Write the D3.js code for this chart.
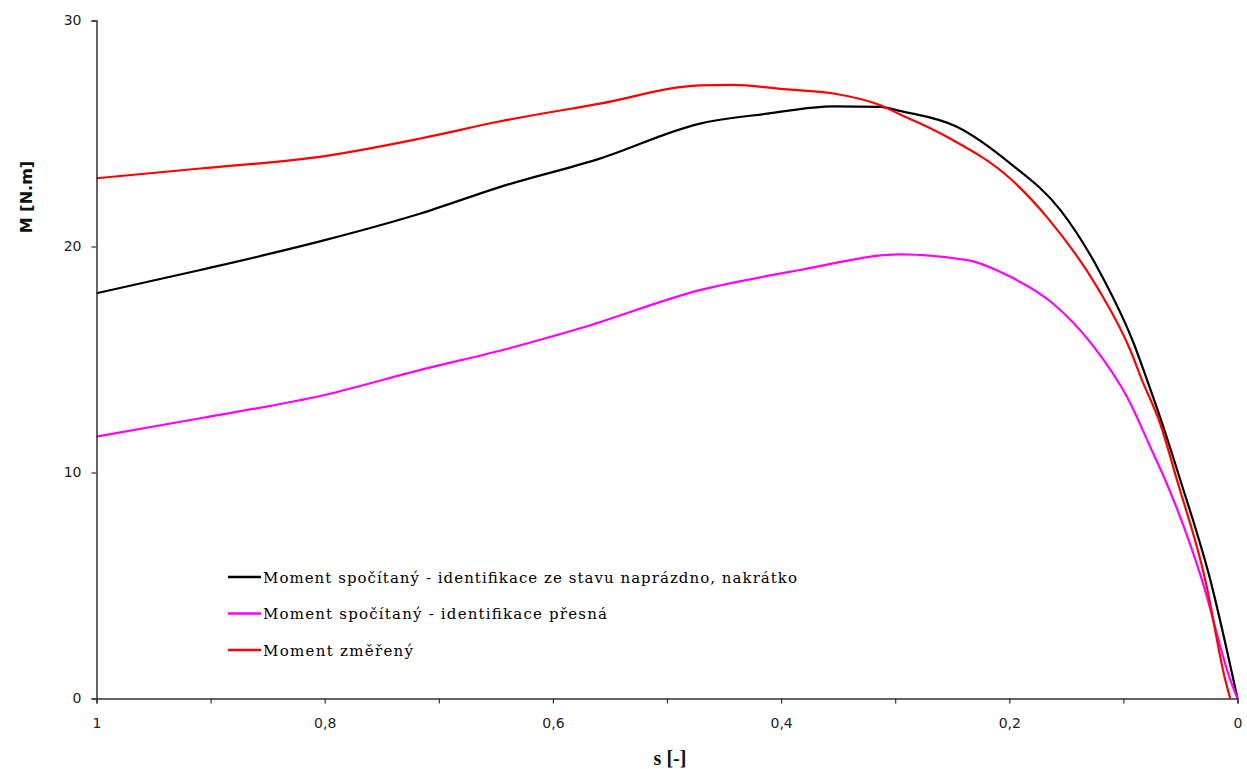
<!DOCTYPE html>
<html><head><meta charset="utf-8">
<script src="https://cdn.jsdelivr.net/npm/d3@7"></script>
<style>body{margin:0;background:#fff}svg{display:block}</style>
</head><body>
<svg id="c" width="1247" height="769"></svg>
<script>
// s [-] and M [N.m]
const sBlack = [1.0,0.909,0.800,0.716,0.646,0.559,0.471,0.412,0.354,0.313,0.296,0.246,0.199,0.155,0.120,0.091,0.0793,0.068,0.0502,0.0239,0.0];
const mBlack = [17.93,18.96,20.28,21.46,22.64,23.89,25.44,25.88,26.2,26.18,26.0,25.3,23.67,21.6,18.81,15.72,14.1,12.47,9.68,5.26,0.0];
const sMagenta = [1.0,0.909,0.800,0.716,0.638,0.576,0.471,0.383,0.296,0.237,0.199,0.162,0.126,0.097,0.074,0.0634,0.0312,0.0064,0.0];
const mMagenta = [11.59,12.4,13.43,14.54,15.5,16.38,18.07,18.96,19.65,19.4,18.66,17.49,15.57,13.36,10.86,9.68,5.26,0.84,0.0];
const sRed = [1.0,0.909,0.800,0.716,0.646,0.559,0.471,0.442,0.398,0.354,0.313,0.296,0.278,0.252,0.199,0.167,0.123,0.094,0.0838,0.068,0.0531,0.0283,0.0108,0.0064];
const mRed = [23.02,23.45,24.0,24.78,25.54,26.32,27.13,27.15,26.96,26.77,26.25,25.85,25.44,24.78,23.0,21.3,18.2,15.42,14.1,12.2,9.68,5.26,0.84,0.0];
const seriesNames = ["Moment spočítaný - identifikace ze stavu naprázdno, nakrátko","Moment spočítaný - identifikace přesná","Moment změřený"];
const seriesColors = ["#000000","#ff00ff","#ff0000"];
const xTicks = [1,0.9,0.8,0.7,0.6,0.5,0.4,0.3,0.2,0.1,0];
const xLabels = [1,0.8,0.6,0.4,0.2,0];
const yTicks = [0,10,20,30];

const series = [
  sBlack.map((s,i)=>({s, m:mBlack[i]})),
  sMagenta.map((s,i)=>({s, m:mMagenta[i]})),
  sRed.map((s,i)=>({s, m:mRed[i]}))
];

const svg = d3.select("#c");
const x = d3.scaleLinear().domain([1,0]).range([96.5,1237.5]);
const y = d3.scaleLinear().domain([0,30]).range([698.5,20.5]);
const axisColor = "#333";

// lines
const line = d3.line().x(d=>x(d.s)).y(d=>y(d.m)).curve(d3.curveMonotoneX);
series.forEach((data,i)=>{
  const sorted = data.slice().sort((a,b)=>a.s-b.s);
  svg.append("path").datum(sorted).attr("d",line)
    .attr("fill","none").attr("stroke",seriesColors[i]).attr("stroke-width",2.2)
    .attr("stroke-linejoin","round");
});

// y axis
const yAxis = svg.append("g").attr("transform","translate(96.5,0)")
  .call(d3.axisLeft(y).tickValues(yTicks).tickSize(5).tickPadding(10).tickFormat(d3.format("d")));
// x axis
const xAxis = svg.append("g").attr("transform","translate(0,698.5)")
  .call(d3.axisBottom(x).tickValues(xTicks).tickSize(5).tickPadding(15)
    .tickFormat(d => xLabels.some(v=>Math.abs(v-d)<1e-9) ? String(+d.toFixed(1)).replace(".",",") : ""));
[yAxis,xAxis].forEach(g=>{
  g.select(".domain").attr("stroke",axisColor).attr("stroke-width",1.5);
  g.selectAll(".tick line").attr("stroke",axisColor).attr("stroke-width",1.2);
  g.selectAll("text").attr("fill","#222").style("font-family","'DejaVu Sans', sans-serif").style("font-size","14px");
});

// axis titles
svg.append("text").attr("transform","translate(32,197) rotate(-90)")
  .attr("text-anchor","middle").style("font-family","'DejaVu Sans', sans-serif")
  .style("font-weight","bold").style("font-size","16px").attr("fill","#111").text("M [N.m]");
svg.append("text").attr("x",670).attr("y",765)
  .attr("text-anchor","middle").style("font-family","'Liberation Serif', serif")
  .style("font-weight","bold").style("font-size","20px").attr("fill","#111").text("s [-]");

// legend
const legendWidths = [534,344,150];
const leg = svg.append("g");
seriesNames.forEach((n,i)=>{
  const yy = 577 + i*36.5;
  leg.append("line").attr("x1",228).attr("x2",261).attr("y1",yy).attr("y2",yy)
    .attr("stroke",seriesColors[i]).attr("stroke-width",2.5);
  leg.append("text").attr("x",263).attr("y",yy+5.5)
    .attr("textLength",legendWidths[i]).attr("lengthAdjust","spacing")
    .style("font-family","'DejaVu Serif', serif").style("font-size","15px")
    .attr("fill","#000").text(n);
});
</script>
</body></html>
